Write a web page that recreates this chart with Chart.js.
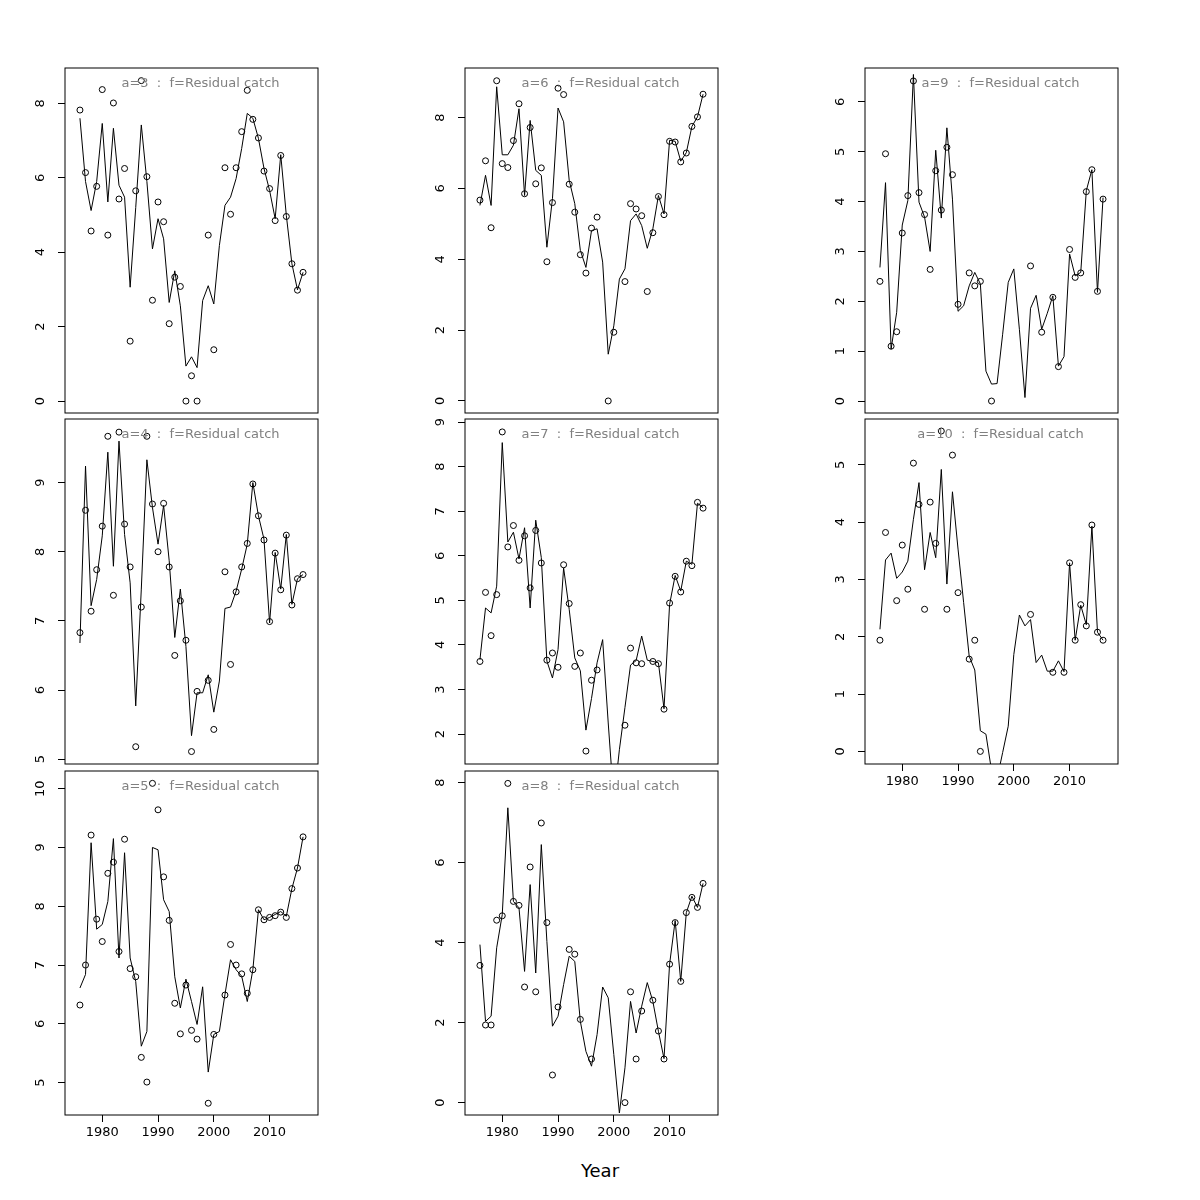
<!DOCTYPE html>
<html>
<head>
<meta charset="utf-8">
<script src="https://cdn.jsdelivr.net/npm/chart.js@4.4.1/dist/chart.umd.min.js"></script>
<style>
  body { margin: 0; background: #fff; width: 1200px; height: 1200px; position: relative; overflow: hidden; font-family: "DejaVu Sans", sans-serif; }
  canvas { position: absolute; }
  #xlab { position: absolute; left: 0; width: 1200px; top: 1160px; text-align: center; font-size: 18px; color: #000; }
</style>
</head>
<body>
<div id="xlab">Year</div>
<script>
// years on the x axis
const years = [1976, 1977, 1978, 1979, 1980, 1981, 1982, 1983, 1984, 1985, 1986, 1987, 1988, 1989, 1990,
  1991, 1992, 1993, 1994, 1995, 1996, 1997, 1998, 1999, 2000, 2001, 2002, 2003, 2004, 2005,
  2006, 2007, 2008, 2009, 2010, 2011, 2012, 2013, 2014, 2015, 2016];
const xTicks = [1980, 1990, 2000, 2010];
const xRange = [1973.32, 2018.68];

// observed (circles) and fitted (line), one pair per age
const obsA3 = [7.82, 6.14, 4.57, 5.77, 8.37, 4.46, 8.01, 5.43, 6.25, 1.61, 5.65, 8.61, 6.03, 2.71, 5.35, 4.82, 2.08, 3.33, 3.08, 0, 0.68, 0, null, 4.46, 1.38, null, 6.27, 5.02, 6.27, 7.24, 8.35, 7.57, 7.07, 6.18, 5.71, 4.85, 6.6, 4.96, 3.69, 2.98, 3.46];
const fitA3 = [7.6, 5.9, 5.12, 5.9, 7.46, 5.35, 7.33, 5.8, 5.48, 3.06, 5.2, 7.42, 5.9, 4.09, 4.9, 4.36, 2.65, 3.5, 2.56, 0.94, 1.19, 0.9, 2.7, 3.1, 2.61, 4.18, 5.26, 5.48, 5.98, 6.79, 7.73, 7.6, 7.06, 6.25, 5.66, 4.9, 6.62, 4.99, 3.69, 2.99, 3.46];

const obsA4 = [6.83, 8.6, 7.14, 7.74, 8.37, 9.67, 7.37, 9.73, 8.4, 7.78, 5.18, 7.2, 9.67, 8.69, 8.0, 8.7, 7.78, 6.5, 7.29, 6.72, 5.11, 5.98, null, 6.14, 5.43, null, 7.71, 6.37, 7.42, 7.78, 8.12, 8.98, 8.52, 8.17, 6.99, 7.98, 7.45, 8.24, 7.23, 7.61, 7.67];
const fitA4 = [6.68, 9.24, 7.22, 7.6, 8.23, 9.44, 7.79, 9.6, 8.25, 7.55, 5.77, 7.46, 9.33, 8.64, 8.11, 8.67, 7.87, 6.76, 7.46, 6.63, 5.34, 5.96, 5.96, 6.22, 5.68, 6.13, 7.18, 7.2, 7.43, 7.75, 8.11, 9.0, 8.52, 8.18, 6.97, 7.99, 7.46, 8.25, 7.24, 7.61, 7.67];

const obsA5 = [6.32, 7.0, 9.21, 7.78, 7.4, 8.56, 8.75, 7.23, 9.14, 6.94, 6.8, 5.43, 5.01, 10.09, 9.64, 8.5, 7.76, 6.35, 5.83, 6.66, 5.89, 5.74, null, 4.65, 5.82, null, 6.49, 7.35, 7.0, 6.85, 6.52, 6.92, 7.94, 7.77, 7.81, 7.84, 7.9, 7.81, 8.3, 8.65, 9.18];
const fitA5 = [6.61, 6.84, 9.08, 7.61, 7.69, 8.08, 9.15, 7.12, 8.91, 7.12, 6.72, 5.62, 5.87, 9.0, 8.96, 8.11, 7.91, 6.8, 6.27, 6.76, 6.38, 5.99, 6.63, 5.18, 5.82, 5.87, 6.5, 7.09, 6.92, 6.81, 6.38, 6.92, 7.94, 7.77, 7.81, 7.86, 7.91, 7.83, 8.3, 8.65, 9.18];

const obsA6 = [5.67, 6.78, 4.89, 9.04, 6.7, 6.59, 7.35, 8.39, 5.85, 7.72, 6.13, 6.58, 3.93, 5.6, 8.83, 8.65, 6.12, 5.33, 4.13, 3.61, 4.88, 5.19, null, 0, 1.94, null, 3.37, 5.57, 5.42, 5.23, 3.09, 4.75, 5.77, 5.26, 7.33, 7.31, 6.75, 7.0, 7.75, 8.02, 8.66];
const fitA6 = [5.52, 6.37, 5.52, 8.87, 6.95, 6.95, 7.22, 8.25, 5.8, 7.92, 6.51, 6.37, 4.34, 5.71, 8.27, 7.88, 6.23, 5.57, 4.25, 3.77, 4.81, 4.86, 3.92, 1.32, 2.12, 3.44, 3.73, 5.09, 5.28, 4.95, 4.31, 4.86, 5.8, 5.28, 7.36, 7.33, 6.77, 7.01, 7.75, 8.02, 8.66];

const obsA7 = [3.63, 5.18, 4.21, 5.13, 8.78, 6.2, 6.68, 5.9, 6.45, 5.28, 6.57, 5.84, 3.66, 3.82, 3.5, 5.8, 4.93, 3.52, 3.82, 1.62, 3.21, 3.44, null, null, null, null, 2.2, 3.93, 3.6, 3.58, null, 3.63, 3.58, 2.56, 4.94, 5.54, 5.19, 5.88, 5.78, 7.2, 7.07];
const fitA7 = [3.67, 4.83, 4.72, 5.32, 8.54, 6.31, 6.53, 5.93, 6.63, 4.83, 6.8, 5.96, 3.64, 3.26, 3.9, 5.73, 4.8, 3.71, 3.42, 2.09, 2.8, 3.6, 4.12, 2.25, 0.5, 1.65, 2.6, 3.55, 3.65, 4.2, 3.66, 3.63, 3.6, 2.57, 4.91, 5.56, 5.21, 5.88, 5.81, 7.18, 7.08];

const obsA8 = [3.43, 1.94, 1.94, 4.56, 4.67, 7.98, 5.03, 4.93, 2.89, 5.89, 2.77, 6.99, 4.5, 0.69, 2.39, null, 3.83, 3.71, 2.08, null, 1.09, null, null, null, null, null, 0, 2.77, 1.09, 2.29, null, 2.56, 1.79, 1.09, 3.46, 4.5, 3.03, 4.75, 5.13, 4.88, 5.48];
const fitA8 = [3.95, 2.03, 2.16, 3.87, 4.7, 7.37, 5.03, 4.87, 3.28, 5.45, 3.24, 6.45, 4.03, 1.91, 2.16, 2.95, 3.66, 3.53, 2.03, 1.28, 0.91, 1.7, 2.89, 2.62, 1.2, -0.26, 0.87, 2.53, 1.74, 2.41, 3.0, 2.53, 1.78, 1.1, 3.46, 4.55, 3.03, 4.75, 5.16, 4.88, 5.48];

const obsA9 = [2.40, 4.96, 1.10, 1.39, 3.37, 4.12, 6.42, 4.18, 3.74, 2.64, 4.62, 3.83, 5.09, 4.54, 1.94, null, 2.57, 2.31, 2.40, null, 0, null, null, null, null, null, null, 2.71, null, 1.38, null, 2.08, 0.69, null, 3.04, 2.48, 2.57, 4.2, 4.64, 2.2, 4.05];
const fitA9 = [2.68, 4.38, 1.04, 1.78, 3.53, 4.02, 6.55, 3.99, 3.69, 3.0, 5.03, 3.67, 5.48, 4.05, 1.8, 1.91, 2.31, 2.58, 2.35, 0.6, 0.34, 0.35, 1.34, 2.38, 2.65, 1.44, 0.07, 1.86, 2.12, 1.44, 1.76, 2.11, 0.7, 0.89, 2.95, 2.51, 2.58, 4.22, 4.64, 2.18, 4.08];

const obsA10 = [1.94, 3.82, null, 2.63, 3.6, 2.83, 5.03, 4.31, 2.48, 4.35, 3.63, 5.59, 2.48, 5.17, 2.77, null, 1.61, 1.94, 0, null, null, null, null, null, null, null, null, 2.39, null, null, null, 1.38, null, 1.38, 3.29, 1.94, 2.56, 2.19, 3.95, 2.08, 1.94];
const fitA10 = [2.13, 3.34, 3.46, 3.02, 3.13, 3.32, 4.05, 4.69, 3.17, 3.82, 3.38, 4.92, 2.92, 4.53, 3.53, 2.6, 1.66, 1.42, 0.36, 0.3, -0.33, -0.48, -0.02, 0.44, 1.69, 2.38, 2.19, 2.3, 1.55, 1.68, 1.4, 1.4, 1.58, 1.39, 3.29, 1.94, 2.55, 2.21, 3.93, 2.08, 1.94];

// y tick labels and y limits per panel
const yTicksA3 = [0, 2, 4, 6, 8];       const yRangeA3 = [-0.32, 8.95];
const yTicksA4 = [5, 6, 7, 8, 9];       const yRangeA4 = [4.93, 9.92];
const yTicksA5 = [5, 6, 7, 8, 9, 10];   const yRangeA5 = [4.45, 10.30];
const yTicksA6 = [0, 2, 4, 6, 8];       const yRangeA6 = [-0.34, 9.40];
const yTicksA7 = [2, 3, 4, 5, 6, 7, 8, 9]; const yRangeA7 = [1.33, 9.07];
const yTicksA8 = [0, 2, 4, 6, 8];       const yRangeA8 = [-0.31, 8.29];
const yTicksA9 = [0, 1, 2, 3, 4, 5, 6]; const yRangeA9 = [-0.24, 6.68];
const yTicksA10 = [0, 1, 2, 3, 4, 5];   const yRangeA10 = [-0.22, 5.80];

const panels = [
  { age: 3, obs: obsA3, fit: fitA3, yTicks: yTicksA3, yRange: yRangeA3, col: 0, row: 0, xAxis: false },
  { age: 4, obs: obsA4, fit: fitA4, yTicks: yTicksA4, yRange: yRangeA4, col: 0, row: 1, xAxis: false },
  { age: 5, obs: obsA5, fit: fitA5, yTicks: yTicksA5, yRange: yRangeA5, col: 0, row: 2, xAxis: true },
  { age: 6, obs: obsA6, fit: fitA6, yTicks: yTicksA6, yRange: yRangeA6, col: 1, row: 0, xAxis: false },
  { age: 7, obs: obsA7, fit: fitA7, yTicks: yTicksA7, yRange: yRangeA7, col: 1, row: 1, xAxis: false },
  { age: 8, obs: obsA8, fit: fitA8, yTicks: yTicksA8, yRange: yRangeA8, col: 1, row: 2, xAxis: true },
  { age: 9, obs: obsA9, fit: fitA9, yTicks: yTicksA9, yRange: yRangeA9, col: 2, row: 0, xAxis: false },
  { age: 10, obs: obsA10, fit: fitA10, yTicks: yTicksA10, yRange: yRangeA10, col: 2, row: 1, xAxis: true }
];

const colLeft = [65, 465, 865];
const rowTop = [68, 419, 771];
const rowH = [345, 345, 344];
const boxW = 253;
const FONT = '"DejaVu Sans", sans-serif';

// box, rotated y labels and the grey panel title
const framePlugin = {
  id: 'frame',
  afterDraw(chart, args, opts) {
    const ctx = chart.ctx;
    const ca = chart.chartArea;
    const ys = chart.scales.y;
    ctx.save();
    ctx.strokeStyle = '#000';
    ctx.lineWidth = 1;
    ctx.strokeRect(ca.left, ca.top, ca.right - ca.left, ca.bottom - ca.top);

    ctx.fillStyle = '#000';
    ctx.font = '13px ' + FONT;
    ctx.textAlign = 'center';
    ctx.textBaseline = 'middle';
    opts.yTicks.forEach(v => {
      const py = ys.getPixelForValue(v);
      ctx.save();
      ctx.translate(ca.left - 24, py);
      ctx.rotate(-Math.PI / 2);
      ctx.fillText(String(v), 0, 0);
      ctx.restore();
    });

    ctx.fillStyle = '#808080';
    ctx.fillText(opts.title, (ca.left + ca.right) / 2 + 9, ca.top + 16);
    ctx.restore();
  }
};

function makePanel(p) {
  const h = rowH[p.row] + 20 + (p.xAxis ? 40 : 0);
  const canvas = document.createElement('canvas');
  canvas.width = boxW + 70;
  canvas.height = h;
  canvas.style.left = (colLeft[p.col] - 60) + 'px';
  canvas.style.top = (rowTop[p.row] - 10) + 'px';
  document.body.appendChild(canvas);

  const fitPts = years.map((x, i) => ({ x, y: p.fit[i] }));
  const obsPts = [];
  years.forEach((x, i) => { if (p.obs[i] !== null) obsPts.push({ x, y: p.obs[i] }); });

  new Chart(canvas, {
    data: {
      datasets: [
        { type: 'line', data: fitPts, borderColor: '#000', borderWidth: 1, pointRadius: 0, tension: 0, fill: false },
        { type: 'scatter', data: obsPts, borderColor: '#000', borderWidth: 1, backgroundColor: 'rgba(0,0,0,0)', pointRadius: 3, pointStyle: 'circle' }
      ]
    },
    options: {
      responsive: false,
      animation: false,
      devicePixelRatio: 1,
      events: [],
      layout: { padding: { left: 0, top: 10, right: 10, bottom: 10 } },
      plugins: {
        legend: { display: false },
        tooltip: { enabled: false },
        frame: { yTicks: p.yTicks, title: 'a=' + p.age + '  :  f=Residual catch' }
      },
      scales: {
        x: {
          type: 'linear',
          display: p.xAxis,
          min: xRange[0],
          max: xRange[1],
          afterBuildTicks: s => { s.ticks = xTicks.map(v => ({ value: v })); },
          afterFit: s => { s.height = p.xAxis ? 40 : 0; },
          border: { display: false },
          grid: { drawOnChartArea: false, drawTicks: true, tickLength: 7, color: '#000', lineWidth: 1 },
          ticks: { color: '#000', font: { size: 13, family: FONT }, padding: 3, maxRotation: 0, autoSkip: false, callback: v => String(v) }
        },
        y: {
          type: 'linear',
          min: p.yRange[0],
          max: p.yRange[1],
          afterBuildTicks: s => { s.ticks = p.yTicks.map(v => ({ value: v })); },
          afterFit: s => { s.width = 60; },
          border: { display: false },
          grid: { drawOnChartArea: false, drawTicks: true, tickLength: 7, color: '#000', lineWidth: 1 },
          ticks: { display: false }
        }
      }
    },
    plugins: [framePlugin]
  });
}

panels.forEach(makePanel);
</script>
</body>
</html>
